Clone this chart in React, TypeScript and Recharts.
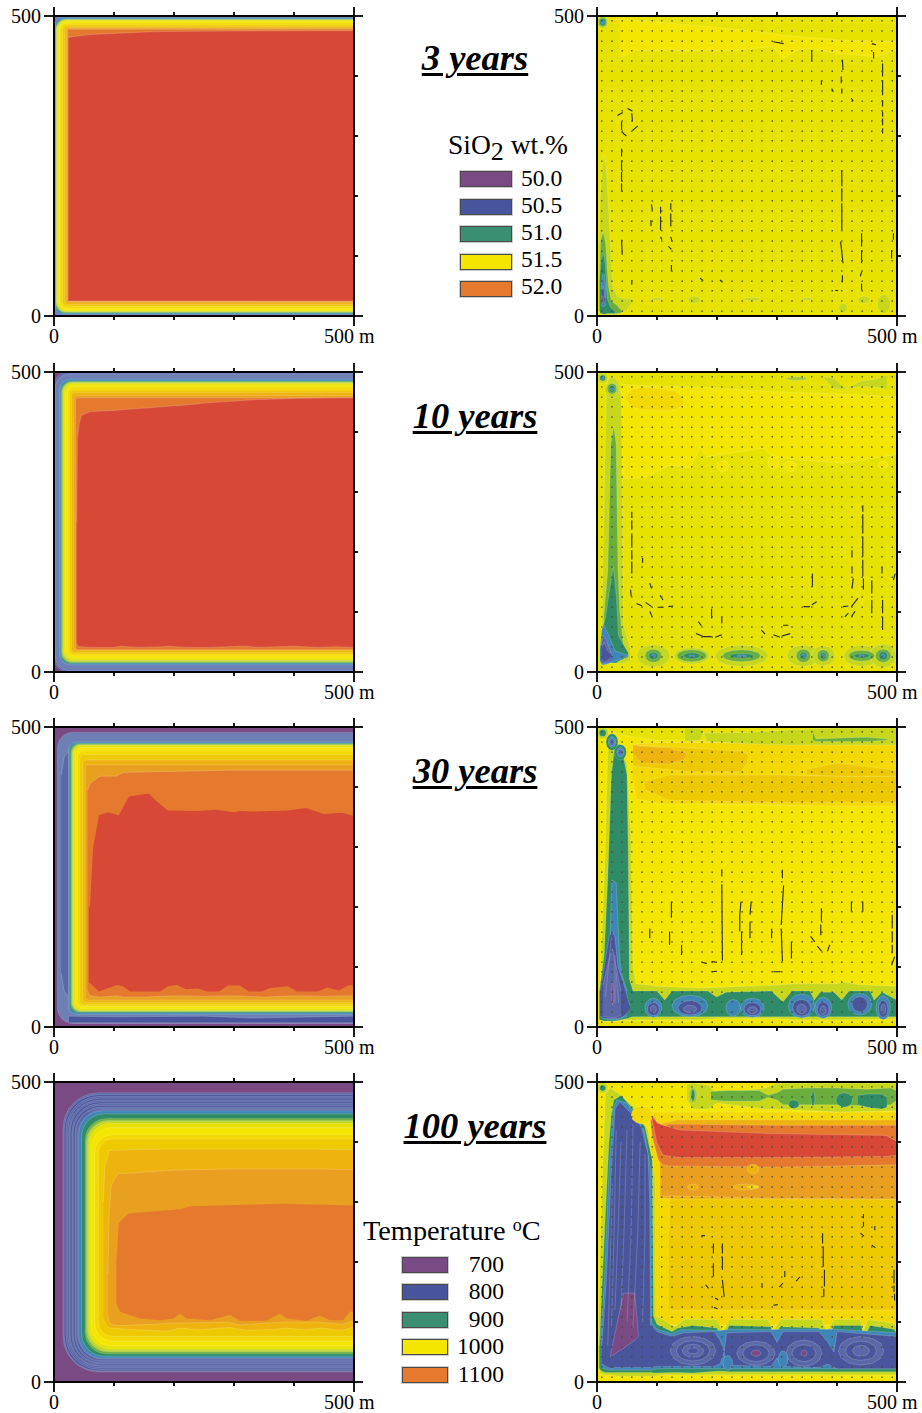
import React from 'react';
import { ComposedChart, Area, Line, Scatter, XAxis, YAxis } from 'recharts';

type T = [number, number, number];
type S = { c: number; p: T[]; s?: number };
type Seg = [number, number, number, number];

const RAMP = ['#7a4a85', '#4a569c', '#5a68a8', '#6e7fb6', '#3f86b8', '#2f8c66', '#6aaf3d', '#a8c82f', '#c6d71c', '#e8e200', '#f5e600', '#f3d900', '#efc900', '#eeb30f', '#e99f20', '#e57a2e', '#d74936'];
const AXIS_TICKS = [0, 100, 200, 300, 400, 500];
const GRID = [8, 25, 42, 58, 75, 92, 108, 125, 142, 158, 175, 192, 208, 225, 242, 258, 275, 292, 308, 325, 342, 358, 375, 392, 408, 425, 442, 458, 475, 492];
const TITLES = ['3 years', '10 years', '30 years', '100 years'];
const ROW_TOPS = [16, 372, 727, 1082];
const TITLE_BASE = [71, 429, 784, 1139];
const SIO2_LEGEND = [['50.0', '#7a4a85'], ['50.5', '#47569a'], ['51.0', '#3a8f72'], ['51.5', '#f5e600'], ['52.0', '#e57a2e']];
const TEMP_LEGEND = [['700', '#7a4a85'], ['800', '#47569a'], ['900', '#3a8f72'], ['1000', '#f5e600'], ['1100', '#e57a2e']];

const CORNER = [[0, 1], [0.03, 0.76], [0.07, 0.63], [0.16, 0.45], [0.29, 0.29], [0.45, 0.16], [0.63, 0.07], [0.76, 0.03], [1, 0]];
const BLOB = [[-1, 0], [-0.87, 0.5], [-0.5, 0.87], [0, 1], [0.5, 0.87], [0.87, 0.5], [1, 0]];
const band = ([c, l, t, b, r]: number[]): S => ({ c, p: [...CORNER.map(([dx, dy]) => [l + dx * r, b + dy * r, t - dy * r] as T), [500, b, t]] });
const blob = ([c, cx, cy, rx, ry]: number[]): S => ({ c, p: BLOB.map(([dx, dy]) => [cx + dx * rx, cy - dy * ry, cy + dy * ry] as T) });
const raw = (c: number, p: number[][]): S => ({ c, p: p as T[] });
const split = (c: number, mid: number, top: number[][], bottom: number[][]): S[] => [
  { c, s: 0, p: bottom.map(([x, y]) => [x, y, mid + 1] as T) },
  { c, s: 0, p: top.map(([x, y]) => [x, mid - 1, y] as T) },
];
const full = (c: number): S => ({ c, s: 0, p: [[0, 0, 500], [500, 0, 500]] });
const edges = (bands: number[][]): Seg[] => bands.map(([, l, t, b, r]) => [l, b + r, l, t - r]);

// ---------- temperature panels: [colour, left, top, bottom, corner]
const temp3Bands = [[3, 0.5, 499, 1, 8], [4, 2, 497, 3, 12], [5, 3, 495, 4.5, 14], [6, 3.5, 494.5, 5.5, 15], [7, 4, 494, 6.5, 16], [8, 4.5, 493.5, 7, 16], [9, 5.5, 493, 8, 17], [10, 7, 491, 10, 16], [11, 10, 488, 13, 13], [12, 14, 485, 16, 9], [13, 18, 482, 19, 6], [14, 21, 480, 22, 4], [15, 23, 478, 24.5, 2]];
const temp3Core = [[24, 25, 464], [35, 25, 466], [60, 25, 469], [100, 25, 471], [170, 25, 474], [300, 25, 475], [500, 25, 475.5]];

const temp10Bands = [[2, 0, 500, 0, 24], [3, 2, 497, 2, 24], [4, 9, 488, 12, 18], [5, 11, 485, 14, 16], [6, 12.5, 484, 15.5, 16], [7, 13.5, 483, 16.5, 16], [8, 15, 482, 18, 16], [9, 16.5, 481, 20, 15], [10, 19, 478, 23, 14], [11, 23, 475, 27, 11], [12, 26, 470, 30, 8], [13, 29, 466, 33, 6], [14, 33, 461, 37, 5], [15, 36, 457, 37, 4]];
const temp10Core = [[38, 48, 250], [39, 44, 390], [42, 42, 414], [46, 42, 428], [60, 41, 434], [100, 41, 436], [110, 43, 437], [140, 41, 439], [180, 42, 442], [190, 43, 443], [220, 41, 445], [260, 41, 449], [310, 43, 452], [320, 43, 453], [340, 41, 454], [370, 42, 455], [400, 43, 456], [440, 41, 456.5], [470, 42, 457], [500, 41, 457]];

const temp30Bands = [[3, 6, 491, 6, 26], [4, 24, 475, 21, 14], [5, 26, 473, 23.5, 14], [6, 28, 472, 25, 14], [7, 29.5, 471, 26, 14], [8, 31, 470, 27, 14], [9, 32, 469, 28, 14], [10, 35, 466, 31, 12], [11, 39, 460, 34, 10], [12, 43, 454, 37, 8], [13, 48, 445, 41, 6], [14, 52, 437, 45, 5]];
const temp30Dark = [[25, 7, 18], [100, 7, 17], [250, 7, 18], [330, 7, 15], [500, 7, 18]];
const temp30DarkLeft = [[12, 90, 420], [17, 60, 450], [24, 50, 460]];
const temp30Orange = [[56, 60, 395], [60, 52, 406], [77, 50, 418], [104, 52, 418], [115, 50, 424], [150, 50, 425], [200, 52, 426], [250, 51, 427], [300, 52, 428], [350, 50, 428], [400, 52, 428], [450, 51, 428], [500, 52, 428]];
const temp30CoreTop = [[60, 200], [65, 298], [75, 353], [90, 358], [108, 353], [125, 384], [158, 389], [170, 377], [190, 361], [240, 360], [270, 362], [300, 358], [310, 360], [330, 359], [390, 361], [420, 365], [450, 355], [480, 357], [500, 352]];
const temp30CoreBottom = [[58, 75], [75, 59], [85, 63], [105, 70], [115, 68], [127, 59], [177, 59], [190, 68], [205, 70], [220, 63], [240, 64], [255, 59], [275, 59], [290, 69], [310, 69], [325, 59], [347, 59], [360, 65], [390, 68], [405, 59], [440, 59], [455, 66], [475, 61], [490, 69], [500, 70]];

const temp100Bands = [[2, 15, 482, 17, 60], [1, 17, 479, 18.5, 58], [2, 20, 476, 21, 56], [1, 23, 473, 24, 54], [2, 25, 470, 26, 52], [1, 27, 467, 28, 50], [2, 30, 464, 30, 48], [1, 32, 461, 32, 46], [2, 35, 458, 34, 44], [1, 37, 456, 36, 42], [2, 39, 454, 38, 42], [4, 41, 452, 39.5, 40], [5, 46, 447, 43, 38], [6, 52, 439, 47, 36], [7, 54, 436, 50, 36], [8, 56, 434, 52, 36], [9, 58, 431, 55, 36], [10, 62, 424, 60, 34], [11, 68, 412, 68, 30], [12, 74, 405, 76, 24]];
const temp100Amber = [[82, 105, 300], [85, 98, 360], [92, 90, 386], [120, 88, 387], [180, 85, 388], [190, 85, 388], [210, 90, 388], [240, 87, 388], [293, 91, 388], [320, 86, 388], [370, 88, 388], [385, 90, 388], [420, 87, 388], [445, 90, 388], [480, 86, 387], [500, 92, 387]];
const temp100Deep = [[90, 110, 180], [92, 100, 280], [95, 97, 325], [100, 95, 338], [108, 94, 347], [200, 98, 353], [290, 100, 355], [310, 95, 355], [380, 100, 355], [440, 100, 355], [480, 96, 354], [500, 102, 354]];
const temp100CoreTop = [[104, 200], [108, 264], [110, 267], [124, 281], [210, 288], [227, 293], [382, 297], [500, 294]];
const temp100CoreBottom = [[104, 131], [110, 117], [143, 106], [177, 103], [199, 106], [210, 114], [221, 106], [260, 103], [293, 112], [310, 102], [354, 102], [377, 114], [388, 106], [421, 102], [443, 111], [460, 103], [482, 103], [493, 117], [500, 118]];

// ---------- SiO2 panels
const sio3Bright = [[38, 432, 495], [44, 432, 494], [66, 443, 493], [120, 443, 488], [233, 443, 478], [288, 449, 471], [294, 449, 470], [310, 428, 468], [333, 443, 466], [355, 446, 464], [400, 438, 460], [466, 432, 458], [500, 443, 458]];
const sio3Lime = [[3, 8, 120], [5, 5, 190], [9, 3, 250], [12, 3, 268], [16, 3, 240], [22, 3, 130], [26, 3, 50], [34, 3, 32], [48, 8, 29], [60, 25, 28]];
const sio3Green = [[4, 8, 60], [6, 6, 125], [10, 5, 140], [14, 5, 125], [19, 5, 50], [24, 4, 25], [33, 4, 18], [40, 5, 10]];
const sio3Deep = [[5, 5, 70], [7, 4, 95], [11, 3, 104], [14, 3, 85], [17, 4, 30], [22, 4, 15], [30, 4, 8]];
const sio3Cyan = [[7, 18, 45], [9, 16, 68], [12, 16, 70], [14, 18, 50], [15, 20, 30]];
const sio3Blue = [[8, 22, 40], [10, 20, 50], [12, 22, 42], [13, 24, 30]];
const sio3Blobs = [[8, 9.5, 490, 9, 11], [6, 9.5, 490, 7, 8], [5, 9.5, 490, 5, 6], [4, 9.5, 490, 2.5, 3], [11, 30, 491, 8, 4], [0, 9.5, 28, 1.5, 6], [8, 99, 28, 12, 2], [8, 162, 27, 10, 6], [8, 258, 28, 14, 3], [8, 350, 28, 10, 2], [8, 410, 13, 7, 8], [8, 445, 27, 10, 6], [8, 478, 20, 11, 16]];

const sio10Bright = [[40, 323, 480], [60, 323, 478], [83, 326, 477], [122, 345, 476], [155, 339, 475], [172, 375, 475], [183, 359, 474], [277, 373, 468], [294, 359, 467], [344, 353, 465], [410, 348, 463], [494, 362, 459], [500, 362, 459]];
const sio10Amber = [[47, 458, 458], [55, 442, 470], [75, 437, 475], [110, 436, 472], [130, 437, 468], [144, 445, 458]];
const sio10TopLime = [[377, 490, 492], [395, 472, 490], [408, 472, 478], [416, 472, 473], [440, 476, 485], [465, 474, 488], [483, 472, 495]];
const sio10StripLime = [[8, 25, 60], [10, 15, 200], [13, 15, 350], [16, 15, 478], [20, 15, 490], [30, 15, 490], [38, 15, 478], [41, 15, 440], [42, 15, 300], [44, 15, 80], [55, 18, 40]];
const sio10StripGreen = [[12, 25, 100], [18, 20, 170], [23, 20, 380], [28, 20, 410], [32, 20, 380], [35, 20, 170], [38, 20, 100], [45, 22, 35]];
const sio10StripDeep = [[8, 20, 70], [14, 18, 90], [20, 15, 130], [27, 15, 175], [32, 15, 130], [36, 18, 60], [52, 25, 32]];
const sio10StripCyan = [[5, 18, 40], [8, 12, 70], [12, 12, 78], [20, 14, 60], [30, 18, 35], [45, 24, 30], [52, 27, 28]];
const sio10StripBlue = [[7, 16, 45], [10, 14, 62], [15, 15, 55], [24, 18, 30]];
const sio10StripCore = [[8, 20, 40], [12, 16, 50], [18, 20, 35], [24, 24, 30]];
const sio10Rings = [[10, 210, 343, 10, 9], [10, 294, 350, 9, 12], [10, 322, 343, 10, 9], [10, 477, 345, 8, 6], [7, 333, 489, 18, 3]];
const sio10TopBlobs = [[8, 25, 470, 12, 14], [6, 25, 472, 8, 9], [5, 25, 472, 5, 6], [4, 25, 472, 2.5, 3], [8, 9.5, 490, 9, 9], [5, 9.5, 490, 5, 5], [4, 9.5, 490, 2.5, 2.5]];
const sio10Lobes = [
  [8, 94, 27, 28, 19], [8, 158, 27, 30, 14], [8, 241, 27, 45, 18], [8, 344, 27, 28, 18], [8, 377, 27, 20, 17], [8, 441, 27, 30, 18], [8, 477, 27, 22, 20],
  [6, 94, 27, 14, 11], [6, 158, 27, 25, 10], [6, 241, 27, 32, 10], [6, 344, 27, 12, 11], [6, 377, 27, 10, 10], [6, 441, 27, 22, 9], [6, 477, 27, 13, 11],
  [5, 94, 27, 8, 6], [5, 158, 27, 14, 5], [5, 241, 27, 20, 4], [5, 344, 27, 6, 6], [5, 377, 27, 5, 6], [5, 441, 27, 13, 4], [5, 477, 27, 7, 7],
  [4, 94, 27, 3, 3], [4, 158, 27, 5, 1.5], [4, 241, 27, 8, 1.5], [4, 344, 27, 3, 3], [4, 377, 27, 2.5, 3], [4, 441, 27, 5, 1.5], [4, 477, 27, 3, 3],
];

const sio30Bright = [[5, 10, 497], [50, 10, 485], [100, 10, 478], [200, 8, 478], [500, 8, 475]];
const sio30Amber = [[60, 410, 470], [65, 380, 472], [110, 372, 474], [200, 372, 474], [300, 370, 473], [400, 368, 473], [500, 368, 472]];
const sio30AmberA = [[80, 395, 410], [120, 378, 420], [300, 374, 420], [420, 374, 418], [500, 374, 418]];
const sio30AmberB = [[60, 435, 470], [160, 425, 465], [240, 425, 460], [250, 440, 455]];
const sio30AmberC = [[350, 420, 430], [400, 418, 440], [500, 418, 428]];
const sio30AmberD = [[60, 455, 470], [75, 440, 468], [120, 438, 465], [145, 445, 458], [150, 455, 455]];
const sio30TopLime = [[147, 476, 498], [172, 478, 498], [178, 490, 490], [183, 476, 490], [250, 472, 491], [320, 470, 495], [390, 470, 498], [500, 470, 498]];
const sio30TopGreen = [[360, 478, 492], [365, 476, 480], [420, 476, 482], [450, 476, 483], [483, 478, 480]];
const sio30Lime = [[8, 10, 150], [14, 10, 300], [18, 10, 470], [25, 10, 490], [35, 10, 470], [50, 12, 440], [57, 12, 300], [60, 10, 100], [65, 12, 72], [100, 12, 68], [170, 12, 65], [200, 14, 66], [300, 14, 70], [330, 12, 72], [400, 12, 72], [410, 12, 75], [440, 12, 70], [500, 14, 68]];
const sio30Deep = [[4, 12, 60], [12, 10, 120], [18, 10, 250], [24, 10, 420], [30, 10, 472], [40, 12, 470], [50, 14, 420], [52, 14, 300], [54, 16, 80], [60, 17, 60], [100, 17, 60], [113, 17, 45], [125, 17, 60], [185, 17, 60], [199, 17, 50], [215, 17, 58], [290, 17, 60], [310, 17, 42], [325, 17, 60], [355, 17, 60], [362, 17, 45], [372, 17, 58], [395, 17, 58], [408, 17, 45], [420, 17, 60], [455, 17, 60], [462, 17, 45], [475, 17, 58], [490, 17, 50], [500, 17, 45]];
const sio30Cyan = [[8, 16, 80], [20, 12, 100], [25, 12, 245], [32, 12, 240], [38, 14, 110], [42, 15, 85], [50, 18, 60]];
const sio30Blue = [[5, 18, 60], [12, 14, 100], [20, 14, 150], [25, 14, 160], [30, 14, 150], [35, 14, 100], [45, 18, 70], [55, 28, 35]];
const sio30Pale = [[10, 18, 70], [22, 16, 120], [26, 16, 130], [32, 16, 100], [40, 20, 60]];
const sio30Blobs = [
  [5, 25, 475, 10, 14], [5, 39, 458, 10, 13], [4, 25, 475, 6, 9], [4, 39, 458, 6, 8], [2, 25, 475, 4, 6], [2, 39, 458, 4, 5],
  [8, 9.5, 490, 10, 10], [5, 9.5, 490, 6, 6],
  [4, 94, 32, 14, 16], [4, 155, 35, 30, 18], [4, 227, 32, 12, 14], [4, 259, 32, 20, 16], [4, 341, 35, 22, 20], [4, 377, 32, 14, 18], [4, 438, 38, 20, 18], [4, 477, 32, 12, 20],
  [1, 94, 30, 10, 11], [1, 155, 32, 20, 12], [1, 259, 30, 14, 11], [1, 341, 32, 15, 14], [1, 377, 30, 10, 12], [1, 438, 38, 13, 13], [1, 477, 30, 8, 14],
  [2, 94, 30, 5, 6], [2, 155, 30, 11, 6], [2, 259, 28, 8, 6], [2, 341, 30, 8, 8], [2, 377, 28, 5, 7], [2, 477, 30, 4, 8], [0, 26, 55, 2, 18],
];
const sio30PaleLines: Seg[] = [[14, 50, 20, 110], [20, 110, 24, 150], [30, 40, 30, 120], [36, 40, 32, 90]];

const sio100Lime = [[2, 25, 60], [6, 14, 250], [10, 12, 370], [14, 12, 480], [22, 12, 490], [35, 10, 482], [65, 10, 455], [85, 10, 420], [97, 10, 340], [98, 10, 110], [110, 12, 104], [130, 12, 92], [145, 12, 104], [200, 12, 104], [210, 12, 84], [220, 12, 104], [285, 12, 104], [294, 12, 84], [305, 12, 104], [375, 12, 104], [383, 12, 84], [395, 12, 104], [438, 12, 104], [444, 12, 86], [452, 12, 104], [495, 12, 98], [500, 12, 90]];
const sio100Deep = [[4, 22, 60], [8, 18, 150], [14, 16, 280], [20, 16, 400], [24, 16, 445], [28, 16, 470], [40, 16, 478], [60, 16, 455], [80, 16, 425], [92, 16, 370], [94, 15, 110], [100, 15, 96], [125, 16, 84], [135, 16, 90], [160, 15, 94], [200, 18, 90], [210, 18, 68], [220, 17, 94], [290, 17, 92], [294, 17, 70], [305, 17, 92], [370, 17, 90], [383, 17, 70], [395, 17, 94], [440, 17, 94], [446, 17, 74], [455, 17, 94], [495, 17, 88], [500, 17, 80]];
const sio100Cyan = [[6, 24, 70], [12, 22, 160], [20, 20, 350], [27, 20, 455], [33, 20, 470], [50, 20, 465], [78, 20, 420], [90, 20, 350], [91, 20, 100], [100, 22, 88], [125, 22, 80], [140, 22, 87], [205, 22, 86], [220, 22, 88], [285, 22, 87], [305, 22, 88], [370, 22, 88], [395, 22, 88], [500, 22, 82]];
const sio100Blue = [[8, 30, 60], [15, 26, 160], [24, 22, 350], [30, 24, 455], [38, 24, 467], [60, 24, 445], [74, 24, 425], [85, 24, 380], [88, 24, 298], [89, 24, 96], [100, 26, 84], [125, 26, 76], [145, 26, 82], [195, 26, 84], [205, 30, 70], [212, 50, 51], [216, 28, 82], [290, 26, 84], [300, 40, 66], [310, 26, 84], [370, 24, 84], [385, 30, 66], [395, 24, 50], [400, 22, 84], [500, 22, 76]];
const sio100Wedge = [[22, 42, 42], [44, 56, 148], [63, 70, 148], [69, 76, 76]];
const sio100Rim = [[90, 95, 450], [500, 95, 450]];
const sio100Main = [[120, 122, 250], [122, 120, 385], [130, 120, 430], [300, 120, 432], [500, 120, 435]];
const sio100Amber = [[105, 306, 430], [135, 305, 437], [300, 305, 437], [500, 305, 437]];
const sio100Deep14 = [[108, 310, 378], [140, 310, 385], [300, 306, 385], [500, 305, 388]];
const sio100Orange = [[88, 442, 446], [92, 410, 446], [102, 370, 430], [110, 362, 425], [120, 360, 430], [300, 358, 428], [500, 362, 428]];
const sio100Red = [[91, 442, 443], [100, 398, 432], [110, 378, 428], [138, 374, 420], [288, 374, 414], [482, 376, 411], [500, 378, 401]];
const sio100TopLime = [[150, 470, 496], [160, 455, 498], [185, 455, 495], [200, 465, 480], [280, 455, 490], [300, 455, 498], [400, 450, 498], [500, 452, 498]];
const sio100TopGreen = [[190, 470, 484], [215, 468, 486], [270, 468, 486], [285, 474, 478], [300, 470, 482], [310, 462, 488], [350, 462, 490], [400, 462, 490], [450, 460, 488], [490, 462, 490], [500, 470, 485]];
const sio100TopDeep = [[435, 462, 478], [450, 458, 480], [475, 455, 480], [483, 458, 475]];
const sio100Blobs = [[7, 160, 478, 7, 14], [5, 160, 478, 3, 10], [5, 328, 463, 9, 7], [5, 360, 472, 3, 12], [5, 412, 470, 14, 12], [8, 9.5, 490, 9, 9], [5, 9.5, 490, 5, 5], [11, 75, 445, 18, 15], [13, 160, 325, 9, 5], [13, 248, 325, 22, 5], [11, 260, 325, 10, 2], [13, 260, 355, 10, 8], [4, 218, 32, 8, 12], [4, 310, 38, 8, 14]];
const sio100Rings = [[2, 160, 52, 38, 24], [1, 160, 52, 28, 17], [2, 160, 52, 18, 11], [1, 160, 52, 9, 5], [2, 265, 48, 32, 20], [1, 265, 48, 22, 14], [0, 265, 48, 8, 5], [2, 345, 48, 30, 22], [1, 345, 48, 20, 14], [0, 345, 48, 5, 5], [2, 440, 52, 38, 24], [1, 440, 52, 26, 16], [2, 440, 52, 14, 9]];
const sio100PaleLines: Seg[] = [[30, 120, 35, 250], [35, 250, 40, 400], [40, 120, 45, 250], [45, 250, 50, 420], [50, 100, 57, 250], [57, 250, 60, 430], [60, 90, 68, 250], [68, 250, 72, 400], [24, 90, 28, 230], [28, 230, 32, 420], [76, 100, 80, 250], [80, 250, 80, 380], [18, 60, 22, 200], [22, 200, 26, 330]];

// ---------- velocity segments: x1, y1, x2, y2 in metres
const vec3: Seg[] = [[34, 334, 43, 339], [51, 346, 58, 342], [58, 338, 59, 324], [41, 324, 41, 310], [41, 307, 49, 300], [59, 309, 68, 317], [41, 279, 41, 266], [41, 260, 41, 243], [41, 240, 41, 224], [41, 221, 41, 207], [41, 127, 42, 102], [408, 243, 408, 216], [408, 213, 408, 193], [408, 188, 408, 143], [406, 124, 410, 88], [409, 68, 409, 56], [476, 421, 476, 399], [476, 393, 476, 368], [476, 360, 476, 349], [476, 341, 476, 332], [476, 329, 476, 318], [476, 313, 476, 304], [458, 454, 465, 452], [461, 440, 461, 429], [106, 182, 106, 171], [106, 166, 106, 143], [106, 132, 108, 127], [123, 188, 123, 177], [123, 171, 123, 149], [123, 132, 125, 124], [119, 116, 124, 111], [124, 85, 124, 74], [58, 60, 58, 52], [294, 457, 311, 454], [358, 443, 358, 424], [409, 427, 410, 410], [407, 399, 407, 388], [408, 379, 408, 371], [424, 363, 427, 358], [391, 379, 394, 374], [374, 393, 374, 385], [172, 63, 177, 59], [205, 60, 209, 56], [397, 43, 402, 42], [441, 74, 439, 66], [441, 54, 441, 43], [494, 138, 494, 127], [491, 110, 491, 96], [441, 138, 441, 116], [441, 110, 441, 88], [91, 186, 92, 176], [90, 160, 90, 150]];
const vec10: Seg[] = [[443, 278, 443, 267], [443, 263, 443, 231], [443, 226, 443, 192], [443, 187, 443, 159], [444, 156, 444, 137], [435, 123, 424, 109], [427, 156, 425, 139], [425, 174, 425, 164], [425, 203, 425, 192], [58, 253, 58, 237], [58, 231, 58, 209], [58, 203, 58, 187], [58, 184, 58, 164], [56, 137, 57, 126], [58, 267, 58, 257], [88, 148, 91, 139], [66, 114, 75, 110], [81, 116, 91, 109], [101, 108, 111, 108], [119, 109, 127, 110], [88, 101, 92, 92], [105, 128, 110, 120], [169, 84, 174, 77], [165, 64, 177, 59], [177, 59, 191, 59], [197, 58, 208, 62], [191, 106, 191, 89], [208, 92, 208, 81], [294, 62, 305, 58], [308, 60, 322, 64], [274, 70, 280, 63], [310, 78, 319, 78], [344, 109, 355, 109], [358, 112, 366, 117], [359, 164, 359, 142], [410, 109, 419, 110], [424, 92, 430, 101], [413, 92, 419, 98], [476, 120, 476, 98], [476, 92, 476, 70], [458, 153, 458, 131], [458, 120, 458, 98], [475, 175, 475, 164], [497, 164, 494, 153], [76, 190, 76, 182]];
const vec30: Seg[] = [[208, 263, 208, 251], [208, 238, 209, 111], [309, 262, 309, 248], [311, 236, 307, 170], [307, 164, 309, 109], [191, 109, 200, 108], [240, 209, 238, 187], [238, 187, 238, 159], [241, 159, 241, 120], [257, 209, 255, 187], [255, 176, 255, 148], [291, 164, 291, 148], [324, 142, 324, 114], [374, 198, 374, 176], [373, 171, 373, 153], [356, 151, 363, 142], [367, 135, 374, 127], [388, 137, 384, 126], [492, 187, 492, 164], [492, 159, 492, 142], [492, 137, 492, 123], [496, 117, 491, 103], [424, 209, 424, 192], [443, 209, 443, 192], [294, 92, 306, 92], [191, 92, 200, 93], [124, 209, 124, 182], [121, 159, 121, 137], [88, 164, 88, 148], [174, 108, 183, 106], [141, 137, 141, 120]];
const vec100: Seg[] = [[376, 248, 376, 231], [377, 226, 377, 192], [379, 187, 379, 159], [378, 156, 378, 142], [209, 231, 209, 214], [209, 209, 209, 187], [209, 170, 212, 142], [194, 231, 194, 214], [194, 198, 194, 176], [444, 280, 444, 273], [444, 267, 444, 259], [439, 248, 445, 243], [463, 260, 463, 253], [458, 228, 464, 224], [495, 187, 495, 164], [495, 161, 495, 150], [496, 147, 496, 136], [181, 162, 186, 156], [195, 124, 201, 122], [174, 244, 180, 244], [294, 128, 301, 129], [313, 185, 313, 175], [310, 165, 304, 158], [338, 175, 332, 168], [197, 140, 202, 137], [275, 165, 275, 158]];

const dotRows = GRID.flatMap((y) => GRID.map((x) => ({ x, y })));
const leftPanels: S[][] = [
  [full(2), ...temp3Bands.map(band), raw(16, temp3Core)],
  [full(0), ...temp10Bands.map(band), raw(16, temp10Core)],
  [full(0), band(temp30Bands[0]), raw(1, temp30Dark), raw(2, temp30DarkLeft), ...temp30Bands.slice(1).map(band), raw(15, temp30Orange), ...split(16, 200, temp30CoreTop, temp30CoreBottom)],
  [full(0), ...temp100Bands.map(band), raw(13, temp100Amber), raw(14, temp100Deep), ...split(15, 200, temp100CoreTop, temp100CoreBottom)],
];
const leftPale: Seg[][] = [edges(temp3Bands), edges(temp10Bands), edges(temp30Bands), edges(temp100Bands)];
const rightPanels: S[][] = [
  [full(9), raw(10, sio3Bright), raw(8, sio3Lime), raw(6, sio3Green), raw(5, sio3Deep), raw(4, sio3Cyan), raw(1, sio3Blue), ...sio3Blobs.map(blob)],
  [full(9), raw(10, sio10Bright), raw(11, sio10Amber), raw(8, sio10TopLime), ...sio10Rings.map(blob), raw(8, sio10StripLime), raw(6, sio10StripGreen), raw(5, sio10StripDeep), ...sio10Lobes.map(blob), raw(4, sio10StripCyan), raw(2, sio10StripBlue), raw(1, sio10StripCore), ...sio10TopBlobs.map(blob)],
  [full(9), raw(10, sio30Bright), raw(11, sio30Amber), raw(12, sio30AmberA), raw(12, sio30AmberB), raw(12, sio30AmberC), raw(13, sio30AmberD), raw(8, sio30TopLime), raw(6, sio30TopGreen), raw(8, sio30Lime), raw(5, sio30Deep), raw(4, sio30Cyan), raw(1, sio30Blue), raw(2, sio30Pale), ...sio30Blobs.map(blob)],
  [full(10), raw(11, sio100Rim), raw(12, sio100Main), raw(13, sio100Amber), raw(14, sio100Deep14), raw(15, sio100Orange), raw(16, sio100Red), raw(8, sio100TopLime), raw(6, sio100TopGreen), raw(5, sio100TopDeep), raw(8, sio100Lime), raw(5, sio100Deep), raw(4, sio100Cyan), raw(1, sio100Blue), ...sio100Blobs.slice(0, 12).map(blob), ...sio100Rings.map(blob), raw(0, sio100Wedge), ...sio100Blobs.slice(12).map(blob)],
];
const rightVectors = [vec3, vec10, vec30, vec100];
const rightPale: (Seg[] | undefined)[] = [undefined, undefined, sio30PaleLines, sio100PaleLines];

const FONT = '"Liberation Serif", "Times New Roman", serif';
const FS = 20;
const INK = '#000';
const PLOT = 300;
const ML = 50, MT = 14, MR = 25, MB = 35;
const W = PLOT + ML + MR, H = PLOT + MT + MB;
const TICK_W = 1.8;

const segRows = (v: Seg[]) => v.flatMap(([a, b, c, d]) => [{ x: a, y: b }, { x: c, y: d }, { x: c, y: null }]);

const bottomTick = ({ x, y, payload }: any) => {
  const v = payload.value, end = v === 0 || v === 500;
  return (
    <g>
      <line x1={x} x2={x} y1={y} y2={y + (end ? 10 : 4)} stroke={INK} strokeWidth={TICK_W} />
      {v === 0 && <text x={x} y={y + 27} textAnchor="middle" fontFamily={FONT} fontSize={FS} fill={INK}>0</text>}
      {v === 500 && <text x={x - 30} y={y + 27} textAnchor="start" fontFamily={FONT} fontSize={FS} fill={INK}>500 m</text>}
    </g>
  );
};
const topTick = ({ x, y, payload }: any) => {
  const end = payload.value === 0 || payload.value === 500;
  return <line x1={x} x2={x} y1={y} y2={y - (end ? 9 : 4)} stroke={INK} strokeWidth={TICK_W} />;
};
const leftTick = ({ x, y, payload }: any) => {
  const v = payload.value;
  if (v !== 0 && v !== 500) return <g />;
  return (
    <g>
      <line x1={x} x2={x - 10} y1={y} y2={y} stroke={INK} strokeWidth={TICK_W} />
      <text x={x - 13} y={y + 7} textAnchor="end" fontFamily={FONT} fontSize={FS} fill={INK}>{v}</text>
    </g>
  );
};
const rightTick = ({ x, y, payload }: any) => {
  const end = payload.value === 0 || payload.value === 500;
  return <line x1={x} x2={x + (end ? 9 : 4)} y1={y} y2={y} stroke={INK} strokeWidth={TICK_W} />;
};
const dotShape = ({ cx, cy }: any) => <rect x={cx - 0.7} y={cy - 0.7} width={1.4} height={1.4} fill="#48483a" />;

function Panel({ shapes, left, top, vectors, pale }: { shapes: S[]; left: number; top: number; vectors?: Seg[]; pale?: Seg[] }) {
  const box: React.CSSProperties = { position: 'absolute', left: left - ML, top: top - MT };
  const axis = { stroke: INK, strokeWidth: 2 };
  return (
    <>
      <div style={box}>
        <ComposedChart width={W} height={H} margin={{ left: ML, top: MT, right: MR, bottom: MB }}>
          <XAxis dataKey="x" type="number" domain={[0, 500]} hide allowDataOverflow />
          <YAxis type="number" domain={[0, 500]} hide allowDataOverflow />
          {shapes.map((s, i) => (
            <Area
              key={i}
              data={s.p.map(([x, lo, hi]) => ({ x, r: [lo, hi] }))}
              dataKey="r"
              type="linear"
              fill={RAMP[s.c]}
              fillOpacity={1}
              stroke={s.s === 0 ? 'none' : 'rgba(255,255,255,0.3)'}
              strokeWidth={0.6}
              dot={false}
              activeDot={false}
              isAnimationActive={false}
            />
          ))}
          {pale && <Line data={segRows(pale)} dataKey="y" type="linear" stroke="rgba(255,255,255,0.3)" strokeWidth={0.6} dot={false} activeDot={false} connectNulls={false} isAnimationActive={false} />}
          {vectors && <Scatter data={dotRows} dataKey="y" shape={dotShape} isAnimationActive={false} />}
          {vectors && <Line data={segRows(vectors)} dataKey="y" type="linear" stroke="#2a2a28" strokeWidth={1.1} dot={false} activeDot={false} connectNulls={false} isAnimationActive={false} />}
        </ComposedChart>
      </div>
      <div style={box}>
        <ComposedChart width={W} height={H} margin={{ left: 5, top: 6, right: 5, bottom: 5 }}>
          <XAxis dataKey="x" type="number" domain={[0, 500]} ticks={AXIS_TICKS} interval={0} height={30} tickSize={0} tickMargin={0} tickLine={false} tick={bottomTick} axisLine={axis} allowDataOverflow />
          <XAxis xAxisId="t" orientation="top" dataKey="x" type="number" domain={[0, 500]} ticks={AXIS_TICKS} interval={0} height={8} tickSize={0} tickMargin={0} tickLine={false} tick={topTick} axisLine={axis} allowDataOverflow />
          <YAxis type="number" domain={[0, 500]} ticks={AXIS_TICKS} interval={0} width={45} tickSize={0} tickMargin={0} tickLine={false} tick={leftTick} axisLine={axis} allowDataOverflow />
          <YAxis yAxisId="r" orientation="right" type="number" domain={[0, 500]} ticks={AXIS_TICKS} interval={0} width={20} tickSize={0} tickMargin={0} tickLine={false} tick={rightTick} axisLine={axis} allowDataOverflow />
        </ComposedChart>
      </div>
    </>
  );
}

const textAt = (x: number, base: number, fs: number): React.CSSProperties => ({ position: 'absolute', left: x, top: base - 0.8375 * fs, fontSize: fs, lineHeight: 1, whiteSpace: 'nowrap', fontFamily: FONT, color: INK });
const swatch = (x: number, y: number, w: number, color: string): React.CSSProperties => ({ position: 'absolute', left: x, top: y, width: w, height: 14, background: color, border: '1px solid #4a4a4a', outline: '1px solid #ccc' });

export default function App() {
  return (
    <div style={{ position: 'absolute', left: 0, top: 0, width: 922, height: 1413, overflow: 'hidden', background: '#fff' }}>
      {ROW_TOPS.map((t, i) => <Panel key={'l' + i} shapes={leftPanels[i]} left={54} top={t} pale={leftPale[i]} />)}
      {ROW_TOPS.map((t, i) => <Panel key={'r' + i} shapes={rightPanels[i]} left={597} top={t} vectors={rightVectors[i]} pale={rightPale[i]} />)}
      {TITLES.map((label, i) => (
        <div key={label} style={{ ...textAt(325, TITLE_BASE[i], 36.5), width: 300, textAlign: 'center', fontWeight: 700, fontStyle: 'italic', textDecoration: 'underline', textDecorationThickness: 3, textUnderlineOffset: 3 }}>{label}</div>
      ))}
      <div style={textAt(448, 154, 27.5)}>SiO<span style={{ fontSize: 26, position: 'relative', top: 6 }}>2</span> wt.%</div>
      {SIO2_LEGEND.map(([label, color], i) => (
        <React.Fragment key={label}>
          <div style={swatch(460, [171, 199, 226, 254, 281][i], 50, color)} />
          <div style={textAt(521, [187, 214, 241, 268, 295][i], 23.5)}>{label}</div>
        </React.Fragment>
      ))}
      <div style={textAt(363, 1241, 28.3)}>Temperature <span style={{ fontSize: 18, position: 'relative', top: -9 }}>o</span>C</div>
      {TEMP_LEGEND.map(([label, color], i) => (
        <React.Fragment key={label}>
          <div style={swatch(402, [1257, 1284, 1312, 1339, 1367][i], 44, color)} />
          <div style={{ ...textAt(404, [1273, 1300, 1328, 1355, 1383][i], 23.5), width: 100, textAlign: 'right' }}>{label}</div>
        </React.Fragment>
      ))}
    </div>
  );
}
